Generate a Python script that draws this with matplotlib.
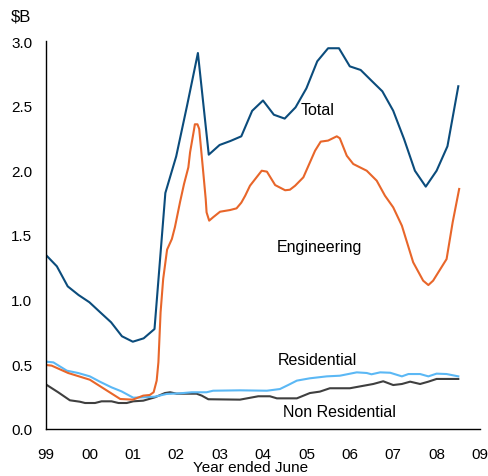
import matplotlib
matplotlib.use('Agg')
import matplotlib.pyplot as plt
import numpy as np

plt.rcParams['font.family'] = ['Liberation Sans', 'DejaVu Sans']

# Total - quarterly, $B
total_year = np.arange(1999.0, 2008.51, 0.25)
total_val = [1.345, 1.258, 1.103, 1.036, 0.98, 0.902, 0.825, 0.717, 0.675, 0.701,
             0.773, 1.825, 2.108, 2.50, 2.907, 2.121, 2.196, 2.227, 2.263, 2.46,
             2.54, 2.43, 2.40, 2.487, 2.634, 2.843, 2.944, 2.944, 2.804, 2.776,
             2.693, 2.611, 2.461, 2.242, 1.997, 1.874, 1.997, 2.186, 2.65]

# Engineering - monthly-ish
eng_year = [1999.0, 1999.13, 1999.51, 2000.01, 2000.71, 2001.0, 2001.24, 2001.39,
            2001.48, 2001.55, 2001.59, 2001.64, 2001.70, 2001.79, 2001.90, 2001.97,
            2002.09, 2002.18, 2002.28, 2002.32, 2002.41, 2002.43, 2002.49, 2002.53,
            2002.62, 2002.68, 2002.70, 2002.76, 2002.85, 2003.01, 2003.24, 2003.39,
            2003.50, 2003.59, 2003.70, 2003.97, 2004.09, 2004.28, 2004.51, 2004.62,
            2004.74, 2004.93, 2005.20, 2005.33, 2005.50, 2005.70, 2005.77, 2005.93,
            2006.08, 2006.39, 2006.62, 2006.81, 2007.00, 2007.20, 2007.46, 2007.69,
            2007.81, 2007.92, 2008.23, 2008.37, 2008.52]
eng_val = [0.495, 0.49, 0.433, 0.381, 0.232, 0.227, 0.258, 0.263,
           0.284, 0.374, 0.516, 0.902, 1.16, 1.387, 1.469, 1.56,
           1.757, 1.894, 2.023, 2.14, 2.314, 2.356, 2.356, 2.32,
           1.997, 1.778, 1.675, 1.611, 1.637, 1.68, 1.693, 1.706,
           1.75, 1.804, 1.881, 1.997, 1.99, 1.886, 1.846, 1.85,
           1.881, 1.946, 2.152, 2.222, 2.23, 2.263, 2.248, 2.113,
           2.049, 1.997, 1.92, 1.804, 1.714, 1.572, 1.289, 1.147,
           1.113, 1.147, 1.314, 1.598, 1.856]

# Residential
res_year = [1999.02, 1999.17, 1999.48, 1999.74, 2000.01, 2000.24, 2000.51, 2000.74,
            2001.01, 2001.24, 2001.51, 2001.78, 2002.09, 2002.36, 2002.70, 2002.85,
            2003.47, 2004.09, 2004.39, 2004.58, 2004.78, 2005.08, 2005.47, 2005.77,
            2006.16, 2006.39, 2006.50, 2006.70, 2006.93, 2007.20, 2007.35, 2007.62,
            2007.81, 2008.00, 2008.23, 2008.50]
res_val = [0.52, 0.515, 0.451, 0.433, 0.407, 0.366, 0.322, 0.291,
           0.242, 0.245, 0.25, 0.271, 0.276, 0.284, 0.284, 0.296,
           0.299, 0.296, 0.309, 0.34, 0.374, 0.392, 0.407, 0.412,
           0.438, 0.433, 0.423, 0.438, 0.435, 0.407, 0.425, 0.425,
           0.407, 0.428, 0.425, 0.407]

# Non Residential
nonres_year = [1999.02, 1999.28, 1999.55, 1999.78, 1999.90, 2000.13, 2000.28, 2000.51,
               2000.67, 2000.86, 2001.01, 2001.24, 2001.51, 2001.74, 2001.86, 2002.01,
               2002.47, 2002.59, 2002.74, 2003.47, 2003.89, 2004.16, 2004.32, 2004.78,
               2005.08, 2005.31, 2005.54, 2006.00, 2006.54, 2006.77, 2007.00, 2007.20,
               2007.39, 2007.62, 2007.81, 2008.00, 2008.50]
nonres_val = [0.34, 0.284, 0.222, 0.211, 0.201, 0.201, 0.214, 0.214,
              0.201, 0.201, 0.214, 0.219, 0.245, 0.278, 0.284, 0.273,
              0.273, 0.258, 0.23, 0.227, 0.253, 0.253, 0.237, 0.237,
              0.278, 0.289, 0.315, 0.315, 0.348, 0.369, 0.34, 0.348,
              0.366, 0.348, 0.366, 0.387, 0.387]

xtick_labels = ['99', '00', '01', '02', '03', '04', '05', '06', '07', '08', '09']
ytick_labels = ['0.0', '0.5', '1.0', '1.5', '2.0', '2.5', '3.0']

fig = plt.figure(figsize=(4.89, 4.77), dpi=100)
ax = fig.add_axes([46/489, 47/477, 434/489, 388/477])

ax.plot(nonres_year, nonres_val, color='#3f3f3f', lw=1.5)
ax.plot(res_year, res_val, color='#5bb8f5', lw=1.5)
ax.plot(eng_year, eng_val, color='#e8662a', lw=1.5)
ax.plot(total_year, total_val, color='#0b4c7c', lw=1.5)

ax.set_xlim(1999, 2009)
ax.set_ylim(0, 3)
ax.set_xticks(np.arange(1999, 2010))
ax.set_xticklabels(xtick_labels)
ax.set_yticks(np.arange(0, 3.01, 0.5))
ax.set_yticklabels(ytick_labels)
ax.tick_params(axis='x', length=0, pad=13, labelsize=11)
ax.tick_params(axis='y', length=0, pad=10, labelsize=11)

for s in ['top', 'right']:
    ax.spines[s].set_visible(False)
for s in ['left', 'bottom']:
    ax.spines[s].set_linewidth(1)

# x axis title sits just under the tick labels
fig.text(251/489, 1 - 468/477, 'Year ended June', fontsize=11, ha='center', va='center')

#series labels
ax.text(2005.25, 2.47, 'Total', fontsize=11.5, ha='center', va='center')
ax.text(2005.3, 1.41, 'Engineering', fontsize=11.5, ha='center', va='center')
ax.text(2005.25, 0.54, 'Residential', fontsize=11.5, ha='center', va='center')
ax.text(2005.75, 0.135, 'Non Residential', fontsize=11.5, ha='center', va='center')

fig.text(11/489, 1 - 17/477, '$B', fontsize=12, ha='left', va='center')

fig.savefig('out.png', dpi=100)
